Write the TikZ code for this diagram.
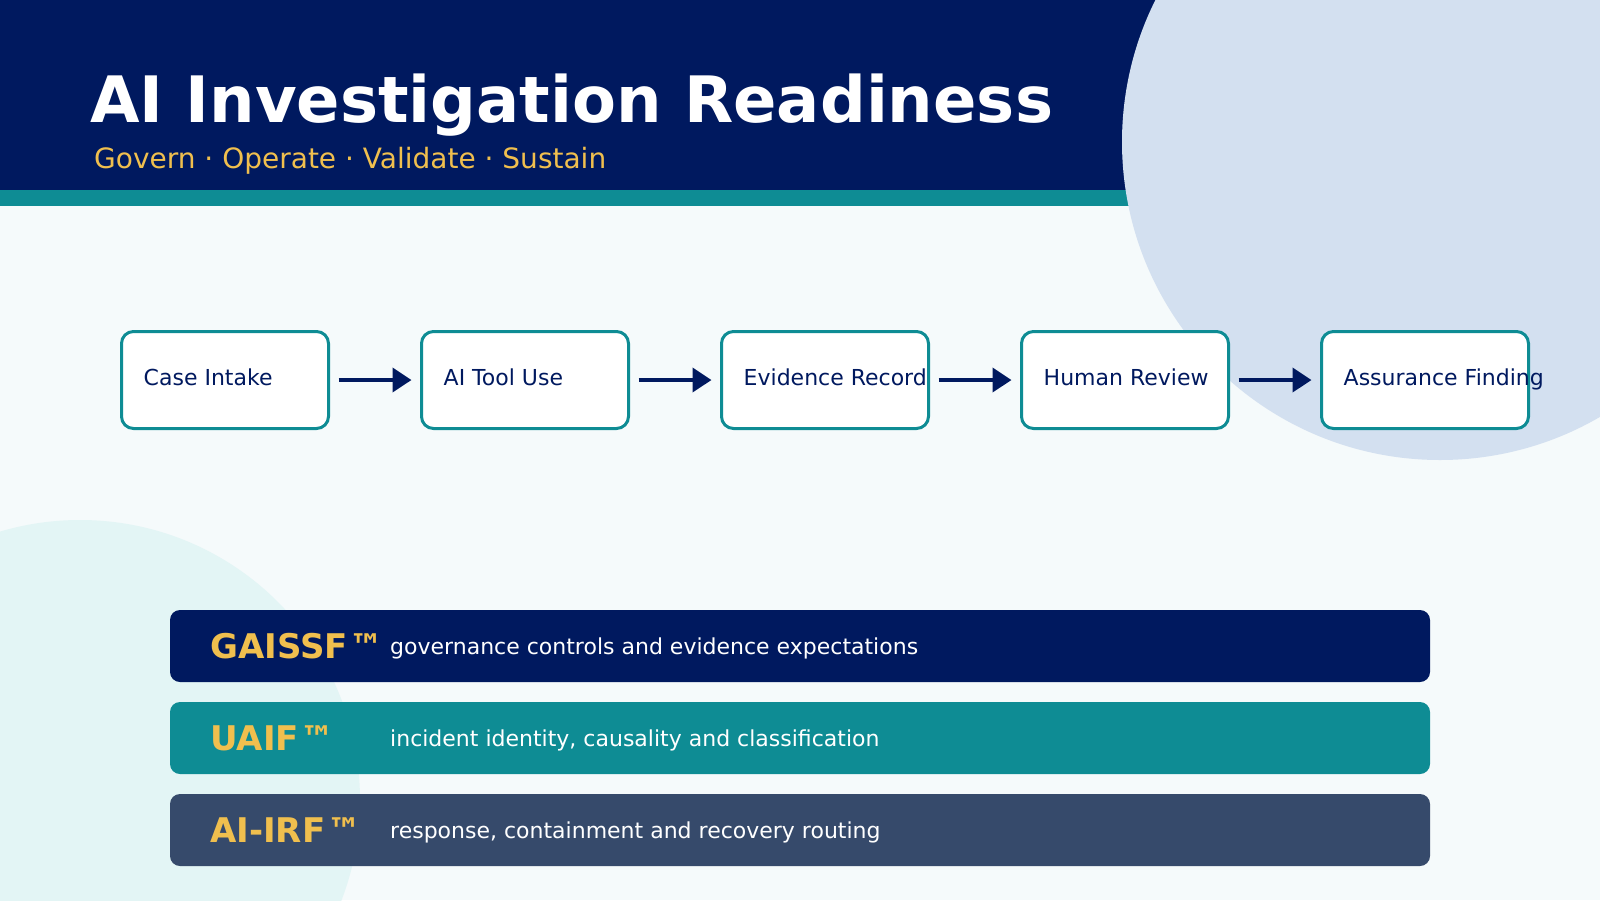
\documentclass[tikz,border=0pt]{standalone}
\usepackage{fontspec}
\setmainfont{DejaVu Sans}
\usepackage{xcolor}
\definecolor{cNavy}{HTML}{00195F}
\definecolor{cTeal}{HTML}{0E8C94}
\definecolor{cSlate}{HTML}{364A6B}
\definecolor{cGold}{HTML}{F0BF4E}
\definecolor{cPaper}{HTML}{F5FAFB}
\definecolor{cSky}{HTML}{D3E0F0}
\definecolor{cMint}{HTML}{E3F5F5}
\usepackage{tikz}
\usetikzlibrary{positioning,arrows.meta,calc}
\tikzset{
  node-box/.style={draw=cTeal,line width=3pt,fill=white,rounded corners=12pt,
    minimum width=207pt,minimum height=97pt,inner sep=0pt,outer sep=0pt},
  node-step/.style={anchor=base west,inner sep=0pt,text=cNavy,
    font=\fontsize{22}{26}\selectfont},
  node-bar/.style={rounded corners=10pt,minimum width=1260pt,minimum height=72pt,
    inner sep=0pt,outer sep=0pt},
  node-tag/.style={anchor=base west,inner sep=0pt,text=cGold,
    font=\fontsize{34}{40}\selectfont\bfseries},
  node-desc/.style={anchor=base west,inner sep=0pt,text=white,
    font=\fontsize{22}{26}\selectfont},
  arrow/.style={-{Triangle[length=19pt,width=24pt]},line width=4pt,draw=cNavy,
    shorten <=10pt,shorten >=10pt},
}

\begin{document}
\begin{tikzpicture}[x=1pt,y=-1pt]
  \useasboundingbox (0,0) rectangle (1600,900);
  \clip (0,0) rectangle (1600,900);

  % background and header
  \fill[cPaper] (0,0) rectangle (1600,900);
  \fill[cMint] (80,800) circle[radius=280pt];
  \fill[cNavy] (0,0) rectangle (1600,190);
  \fill[cTeal] (0,190) rectangle (1600,206);
  \fill[cSky] (1440,142) circle[radius=318pt];

  \node[anchor=base west,inner sep=0pt,text=white,
    font=\fontsize{64}{76}\selectfont\bfseries] (title) at (90,122) {AI Investigation Readiness};
  \node[anchor=base west,inner sep=0pt,text=cGold,
    font=\fontsize{28}{34}\selectfont] (subtitle) at (94,168) {Govern · Operate · Validate · Sustain};

  % flow
  \node[node-box] (intake) at (225,380) {};
  \node[node-box,right=93pt of intake] (tooluse) {};
  \node[node-box,right=93pt of tooluse] (record) {};
  \node[node-box,right=93pt of record] (review) {};
  \node[node-box,right=93pt of review] (finding) {};

  \node[node-step] (intake-t) at ($(intake.west)+(22,5)$) {Case Intake};
  \node[node-step] (tooluse-t) at ($(tooluse.west)+(22,5)$) {AI Tool Use};
  \node[node-step] (record-t) at ($(record.west)+(22,5)$) {Evidence Record};
  \node[node-step] (review-t) at ($(review.west)+(22,5)$) {Human Review};
  \node[node-step] (finding-t) at ($(finding.west)+(22,5)$) {Assurance Finding};

  \draw[arrow] (intake) -- (tooluse);
  \draw[arrow] (tooluse) -- (record);
  \draw[arrow] (record) -- (review);
  \draw[arrow] (review) -- (finding);

  % frameworks
  \node[node-bar,fill=cNavy,anchor=north west] (gaissf) at (170,610) {};
  \node[node-bar,fill=cTeal,below=20pt of gaissf] (uaif) {};
  \node[node-bar,fill=cSlate,below=20pt of uaif] (airf) {};

  \node[node-tag] (gaissf-t) at ($(gaissf.west)+(40,12)$) {GAISSF\kern2pt™};
  \node[node-tag] (uaif-t) at ($(uaif.west)+(40,12)$) {UAIF\kern2pt™};
  \node[node-tag] (airf-t) at ($(airf.west)+(40,12)$) {AI-IRF\kern2pt™};
  \node[node-desc] (gaissf-d) at ($(gaissf.west)+(220,8)$) {governance controls and evidence expectations};
  \node[node-desc] (uaif-d) at ($(uaif.west)+(220,8)$) {incident identity, causality and classification};
  \node[node-desc] (airf-d) at ($(airf.west)+(220,8)$) {response, containment and recovery routing};
\end{tikzpicture}
\end{document}
